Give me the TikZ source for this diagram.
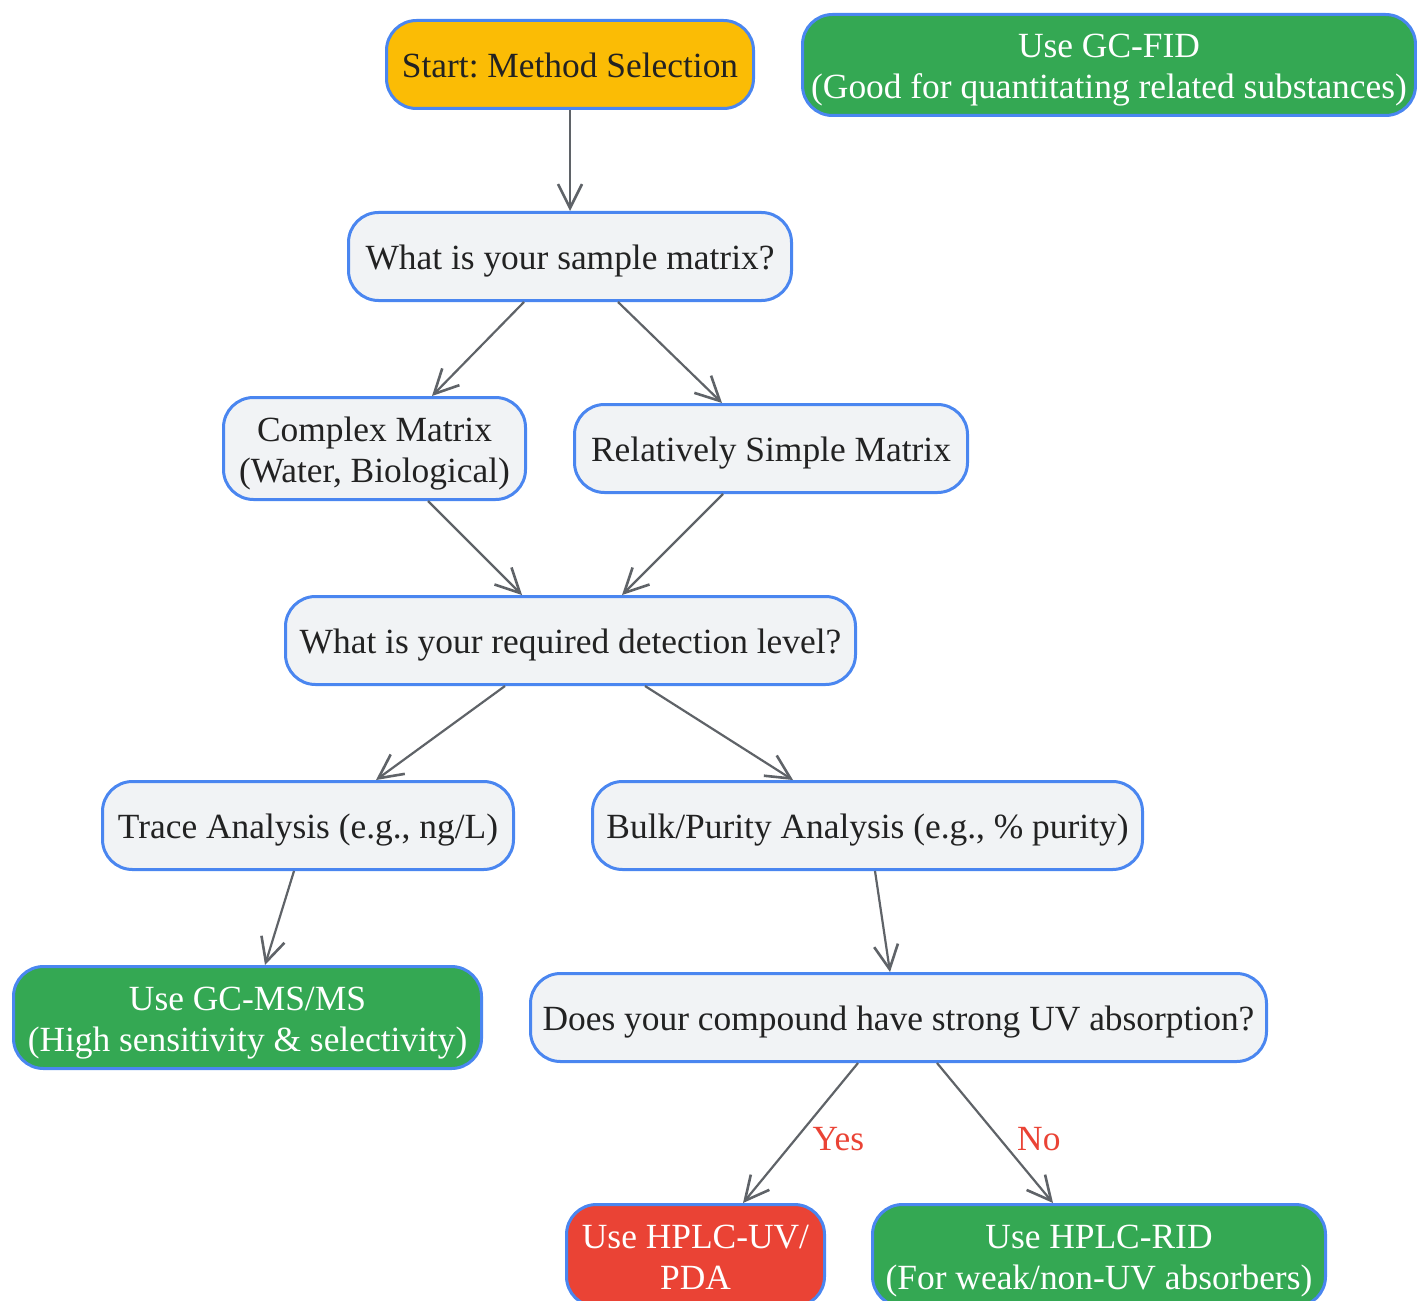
\documentclass[tikz,border=0pt]{standalone}
\usepackage{fontspec}
\setmainfont{Liberation Serif}
\usetikzlibrary{arrows.meta,calc}
\frenchspacing
\definecolor{bordblue}{HTML}{4A86F0}
\definecolor{qgray}{HTML}{F1F3F5}
\definecolor{startyel}{HTML}{FBBC05}
\definecolor{okgreen}{HTML}{34A853}
\definecolor{badred}{HTML}{EA4335}
\definecolor{linegray}{HTML}{5F6368}
\definecolor{txtdark}{HTML}{222222}
\newcommand{\boxtxt}[1]{\raisebox{-2.5pt}[\height][\depth]{\begin{tabular}{@{}c@{}}#1\end{tabular}}}
\tikzset{
  box/.style={draw=bordblue, line width=1.5pt, rounded corners=15pt, align=center,
    inner sep=0pt, font=\fontsize{17.7}{20.5}\selectfont},
  qbox/.style={box, fill=qgray, text=txtdark},
  startbox/.style={box, fill=startyel, text=txtdark},
  goodbox/.style={box, fill=okgreen, text=white},
  redbox/.style={box, fill=badred, text=white},
  conn/.style={draw=linegray, line width=1.1pt, -{Straight Barb[length=12pt,width=12pt,line width=1.3pt]}},
  lbl/.style={text=badred, font=\fontsize{17.7}{20.5}\selectfont, inner sep=0pt}
}
\begin{document}
\begin{tikzpicture}[x=0.5pt,y=-0.5pt]
\useasboundingbox (0,0) rectangle (1417,1300);
\node[startbox, minimum width=183.5pt, minimum height=44pt] (start) at (570,64.5) {\boxtxt{Start: Method Selection}};
\node[goodbox, minimum width=306.5pt, minimum height=50.5pt] (gcfid) at (1109,65) {\boxtxt{Use GC-FID\\(Good for quantitating related substances)}};
\node[qbox, minimum width=221.5pt, minimum height=44pt] (matrix) at (570,256.5) {\boxtxt{What is your sample matrix?}};
\node[qbox, minimum width=151pt, minimum height=51pt] (complex) at (374.5,448.5) {\boxtxt{Complex Matrix\\(Water, Biological)}};
\node[qbox, minimum width=196.5pt, minimum height=44pt] (simple) at (771,448.5) {\boxtxt{Relatively Simple Matrix}};
\node[qbox, minimum width=285pt, minimum height=44pt] (detect) at (570.5,640.5) {\boxtxt{What is your required detection level?}};
\node[qbox, minimum width=205.5pt, minimum height=44pt] (trace) at (308,825.5) {\boxtxt{Trace Analysis (e.g., ng/L)}};
\node[qbox, minimum width=275pt, minimum height=44pt] (bulk) at (867.5,825.5) {\boxtxt{Bulk/Purity Analysis (e.g., \% purity)}};
\node[goodbox, minimum width=234pt, minimum height=51pt] (gcms) at (247.5,1017.5) {\boxtxt{Use GC-MS/MS\\(High sensitivity \& selectivity)}};
\node[qbox, minimum width=368pt, minimum height=44pt] (uv) at (898.5,1017.5) {\boxtxt{Does your compound have strong UV absorption?}};
\node[redbox, minimum width=129pt, minimum height=51pt] (hplcuv) at (695.5,1255.5) {\boxtxt{Use HPLC-UV/\\PDA}};
\node[goodbox, minimum width=226.5pt, minimum height=51pt] (rid) at (1099,1255.5) {\boxtxt{Use HPLC-RID\\(For weak/non-UV absorbers)}};

\draw[conn] (start.south) -- (matrix.north);
\draw[conn] ($(matrix.south)+(-46,0)$) -- ($(complex.north)+(57.5,0)$);
\draw[conn] ($(matrix.south)+(48,0)$) -- ($(simple.north)+(-49,0)$);
\draw[conn] ($(complex.south)+(53.5,0)$) -- ($(detect.north)+(-48.5,0)$);
\draw[conn] ($(simple.south)+(-48,0)$) -- ($(detect.north)+(51.5,0)$);
\draw[conn] ($(detect.south)+(-65.5,0)$) -- ($(trace.north)+(68,0)$);
\draw[conn] ($(detect.south)+(74.5,0)$) -- ($(bulk.north)+(-74.5,0)$);
\draw[conn] ($(trace.south)+(-14,0)$) -- ($(gcms.north)+(17.5,0)$);
\draw[conn] ($(bulk.south)+(7.5,0)$) -- ($(uv.north)+(-8.5,0)$);
\draw[conn] ($(uv.south)+(-40.5,0)$) -- node[lbl, pos=0.544, right=8pt] (yes) {Yes} ($(hplcuv.north)+(47.5,0)$);
\draw[conn] ($(uv.south)+(38.5,0)$) -- node[lbl, pos=0.544, right=8pt] (no) {No} ($(rid.north)+(-46,0)$);
\end{tikzpicture}
\end{document}
